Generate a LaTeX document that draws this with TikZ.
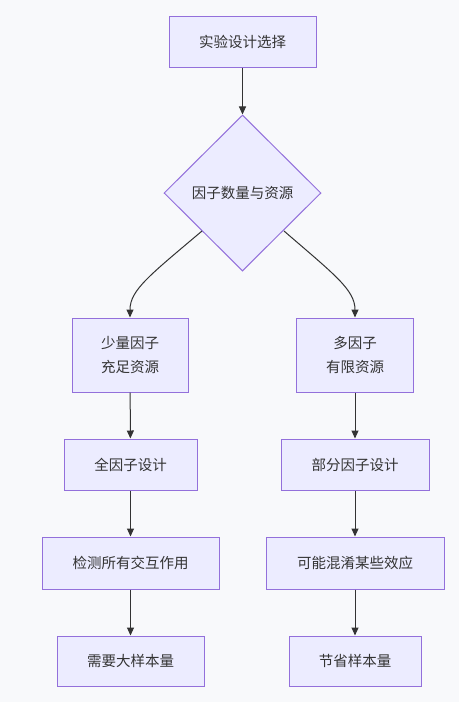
\documentclass[tikz,border=0pt]{standalone}
\usepackage{fontspec}
\setmainfont{Noto Sans CJK SC}
\usetikzlibrary{shapes.geometric,arrows.meta}
\definecolor{bg}{HTML}{F8F9FB}
\definecolor{nodefill}{HTML}{ECECFF}
\definecolor{nodeline}{HTML}{9370DB}
\definecolor{txt}{HTML}{333333}
\tikzset{
  box/.style={draw=nodeline, fill=nodefill, line width=1pt, text=txt, inner sep=0pt, font=\fontsize{14.5}{24}\selectfont, align=center},
  dec/.style={draw=nodeline, fill=nodefill, line width=1pt, text=txt, diamond, inner sep=0pt, minimum width=157pt, minimum height=156pt, font=\fontsize{14.5}{24}\selectfont},
  conn/.style={draw=txt, line width=1pt, -{Triangle[length=8pt,width=7pt]}}
}
\begin{document}
\begin{tikzpicture}[x=1pt,y=-1pt]
\useasboundingbox[fill=bg] (0,0) rectangle (459,702);
\node[box, minimum width=147pt, minimum height=51pt] (a) at (242.5,41.5) {实验设计选择};
\node[dec] (d) at (242.5,193) {因子数量与资源};
\node[box, minimum width=116pt, minimum height=74pt] (l1) at (130,355) {少量因子\\充足资源};
\node[box, minimum width=117pt, minimum height=74pt] (r1) at (355,355) {多因子\\有限资源};
\node[box, minimum width=133pt, minimum height=51pt] (l2) at (130.5,464.5) {全因子设计};
\node[box, minimum width=148pt, minimum height=51pt] (r2) at (355,464.5) {部分因子设计};
\node[box, minimum width=177pt, minimum height=52pt] (l3) at (130.5,563) {检测所有交互作用};
\node[box, minimum width=178pt, minimum height=52pt] (r3) at (355,563) {可能混淆某些效应};
\node[box, minimum width=147pt, minimum height=50pt] (l4) at (130.5,661) {需要大样本量};
\node[box, minimum width=132pt, minimum height=50pt] (r4) at (355,661) {节省样本量};
\coordinate (dl) at (202,231);
\coordinate (dr) at (284,231);
\draw[conn] (a) -- (d);
\draw[conn] (dl) .. controls (150,275) and (130,290) .. (l1.north);
\draw[conn] (dr) .. controls (335,275) and (355,290) .. (r1.north);
\draw[conn] (l1) -- (l2);
\draw[conn] (l2) -- (l3);
\draw[conn] (l3) -- (l4);
\draw[conn] (r1) -- (r2);
\draw[conn] (r2) -- (r3);
\draw[conn] (r3) -- (r4);
\end{tikzpicture}
\end{document}
